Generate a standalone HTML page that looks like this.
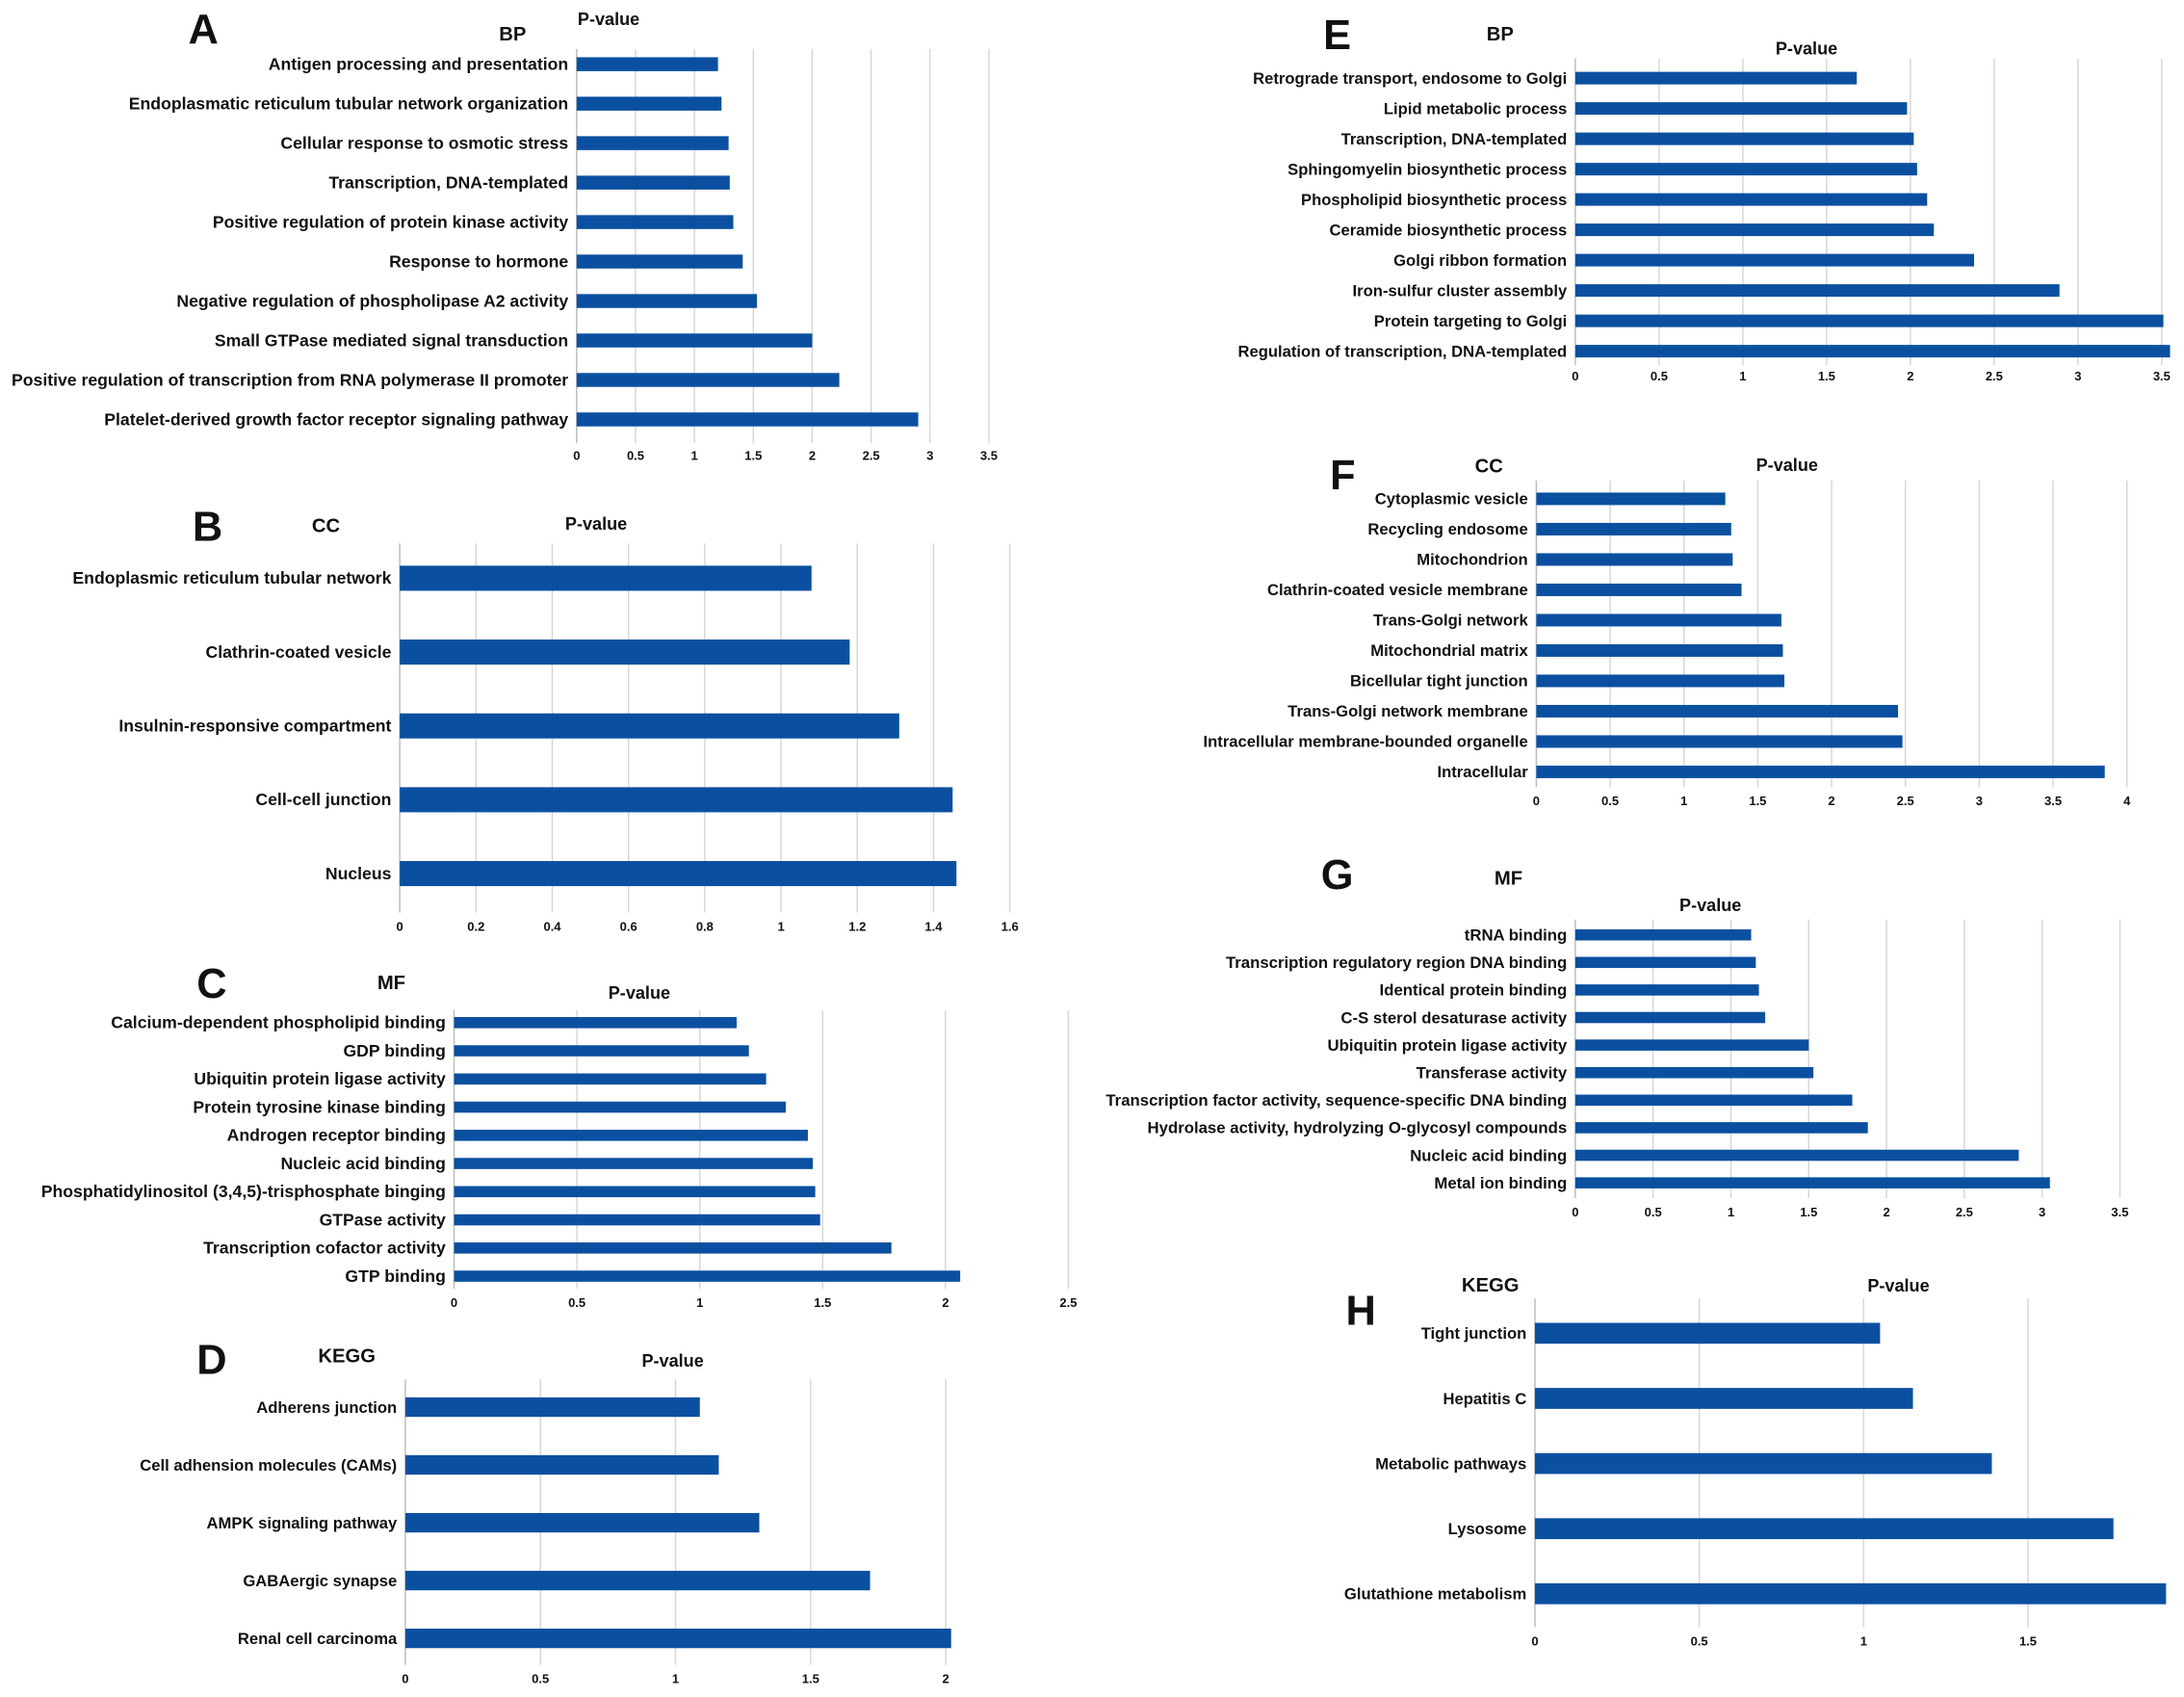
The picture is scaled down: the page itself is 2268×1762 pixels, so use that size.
<!DOCTYPE html>
<html><head><meta charset="utf-8">
<style>
html,body{margin:0;padding:0;background:#fff;}
svg{display:block;}
text{font-family:"Liberation Sans Narrow","Liberation Sans",sans-serif;font-weight:bold;fill:#111;}
</style></head>
<body>
<svg id="fig" width="2268" height="1762" viewBox="0 0 1568 1218" xmlns="http://www.w3.org/2000/svg"></svg>
<script>
const aCats=["Antigen processing and presentation","Endoplasmatic reticulum tubular network organization","Cellular response to osmotic stress","Transcription, DNA-templated","Positive regulation of protein kinase activity","Response to hormone","Negative regulation of phospholipase A2 activity","Small GTPase mediated signal transduction","Positive regulation of transcription from RNA polymerase II promoter","Platelet-derived growth factor receptor signaling pathway"];
const aVals=[1.2,1.23,1.29,1.3,1.33,1.41,1.53,2.0,2.23,2.9];
const aTicks=["0","0.5","1","1.5","2","2.5","3","3.5"];
const bCats=["Endoplasmic reticulum tubular network","Clathrin-coated vesicle","Insulnin-responsive compartment","Cell-cell junction","Nucleus"];
const bVals=[1.08,1.18,1.31,1.45,1.46];
const bTicks=["0","0.2","0.4","0.6","0.8","1","1.2","1.4","1.6"];
const cCats=["Calcium-dependent phospholipid binding","GDP binding","Ubiquitin protein ligase activity","Protein tyrosine kinase binding","Androgen receptor binding","Nucleic acid binding","Phosphatidylinositol (3,4,5)-trisphosphate binging","GTPase activity","Transcription cofactor activity","GTP binding"];
const cVals=[1.15,1.2,1.27,1.35,1.44,1.46,1.47,1.49,1.78,2.06];
const cTicks=["0","0.5","1","1.5","2","2.5"];
const dCats=["Adherens junction","Cell adhension molecules (CAMs)","AMPK signaling pathway","GABAergic synapse","Renal cell carcinoma"];
const dVals=[1.09,1.16,1.31,1.72,2.02];
const dTicks=["0","0.5","1","1.5","2"];
const eCats=["Retrograde transport, endosome to Golgi","Lipid metabolic process","Transcription, DNA-templated","Sphingomyelin biosynthetic process","Phospholipid biosynthetic process","Ceramide biosynthetic process","Golgi ribbon formation","Iron-sulfur cluster assembly","Protein targeting to Golgi","Regulation of transcription, DNA-templated"];
const eVals=[1.68,1.98,2.02,2.04,2.1,2.14,2.38,2.89,3.51,3.55];
const eTicks=["0","0.5","1","1.5","2","2.5","3","3.5"];
const fCats=["Cytoplasmic vesicle","Recycling endosome","Mitochondrion","Clathrin-coated vesicle membrane","Trans-Golgi network","Mitochondrial matrix","Bicellular tight junction","Trans-Golgi network membrane","Intracellular membrane-bounded organelle","Intracellular"];
const fVals=[1.28,1.32,1.33,1.39,1.66,1.67,1.68,2.45,2.48,3.85];
const fTicks=["0","0.5","1","1.5","2","2.5","3","3.5","4"];
const gCats=["tRNA binding","Transcription regulatory region DNA binding","Identical protein binding","C-S sterol desaturase activity","Ubiquitin protein ligase activity","Transferase activity","Transcription  factor activity, sequence-specific DNA binding","Hydrolase activity, hydrolyzing O-glycosyl compounds","Nucleic acid binding","Metal ion binding"];
const gVals=[1.13,1.16,1.18,1.22,1.5,1.53,1.78,1.88,2.85,3.05];
const gTicks=["0","0.5","1","1.5","2","2.5","3","3.5"];
const hCats=["Tight junction","Hepatitis C","Metabolic pathways","Lysosome","Glutathione metabolism"];
const hVals=[1.05,1.15,1.39,1.76,1.92];
const hTicks=["0","0.5","1","1.5"];

const NS="http://www.w3.org/2000/svg";
const svg=document.getElementById('fig');
function mk(tag,attrs,parent){const e=document.createElementNS(NS,tag);for(const k in attrs)e.setAttribute(k,attrs[k]);(parent||svg).appendChild(e);return e;}

const panels=[
 {id:"a",L:"A",T:"BP",cats:aCats,vals:aVals,ticks:aTicks,x0:414,x1:710,y0:46,y1:301,h:10,gt:35,gb:318,ty:330,lx:146,ly:20,tx:368,tyy:24,px:437,py:14,fs:12.2},
 {id:"b",L:"B",T:"CC",cats:bCats,vals:bVals,ticks:bTicks,x0:287,x1:725,y0:415,y1:627,h:18,gt:390,gb:655,ty:668,lx:149,ly:377,tx:234,tyy:377,px:428,py:376,fs:12.2},
 {id:"c",L:"C",T:"MF",cats:cCats,vals:cVals,ticks:cTicks,x0:326,x1:767,y0:734,y1:916,h:8,gt:725,gb:925,ty:938,lx:152,ly:705,tx:281,tyy:705,px:459,py:713,fs:12.2},
 {id:"d",L:"D",T:"KEGG",cats:dCats,vals:dVals,ticks:dTicks,x0:291,x1:679,y0:1010,y1:1176,h:14,gt:990,gb:1195,ty:1208,lx:152,ly:975,tx:249,tyy:973,px:483,py:977,fs:11.5},
 {id:"e",L:"E",T:"BP",cats:eCats,vals:eVals,ticks:eTicks,x0:1131,x1:1552,y0:56,y1:252,h:9,gt:42,gb:262,ty:273,lx:960,ly:24,tx:1077,tyy:24,px:1297,py:35,fs:11.5},
 {id:"f",L:"F",T:"CC",cats:fCats,vals:fVals,ticks:fTicks,x0:1103,x1:1527,y0:358,y1:554,h:9,gt:345,gb:565,ty:578,lx:964,ly:340,tx:1069,tyy:334,px:1283,py:334,fs:11.5},
 {id:"g",L:"G",T:"MF",cats:gCats,vals:gVals,ticks:gTicks,x0:1131,x1:1522,y0:671,y1:849,h:8,gt:660,gb:860,ty:873,lx:960,ly:627,tx:1083,tyy:630,px:1228,py:650,fs:11.6},
 {id:"h",L:"H",T:"KEGG",cats:hCats,vals:hVals,ticks:hTicks,x0:1102,x1:1456,y0:957,y1:1144,h:15,gt:932,gb:1168,ty:1181,lx:977,ly:940,tx:1070,tyy:922,px:1363,py:923,fs:11.5}
];

panels.forEach(p=>{
 const g=mk('g',{});
 
 
 const tmax=parseFloat(p.ticks[p.ticks.length-1]);
 const xs=v=>p.x0+(v/tmax)*(p.x1-p.x0);
 const n=p.cats.length;
 const ys=i=>p.y0+(n>1?i*(p.y1-p.y0)/(n-1):0);
 p.ticks.forEach(t=>{
  const v=parseFloat(t);
  const ln=mk('line',{x1:xs(v),x2:xs(v),y1:p.gt,y2:p.gb,stroke:v===0?'#bbb':'#d6d6d6','stroke-width':1},g);
  
  
  const tl=mk('text',{x:xs(v),y:p.ty,'font-size':9,'text-anchor':'middle'},g);
  tl.textContent=t;
  
  
 });
 p.cats.forEach((c,i)=>{
  const r=mk('rect',{x:xs(0),y:ys(i)-p.h/2,width:xs(p.vals[i])-xs(0),height:p.h,fill:'#0b50a0'},g);
  
  
  const t=mk('text',{x:xs(0)-6,y:ys(i)+4,'font-size':p.fs,'text-anchor':'end'},g);
  t.textContent=c;
  
  
 });
 const L=mk('text',{x:p.lx,y:p.ly+11,'font-size':30,'text-anchor':'middle'},g);
 L.textContent=p.L;
 
 
 const T=mk('text',{x:p.tx,y:p.tyy+5,'font-size':14,'text-anchor':'middle'},g);
 T.textContent=p.T;
 
 
 const P=mk('text',{x:p.px,y:p.py+4,'font-size':12.5,'text-anchor':'middle'},g);
 P.textContent='P-value';
 
 
});
</script>
</body></html>
